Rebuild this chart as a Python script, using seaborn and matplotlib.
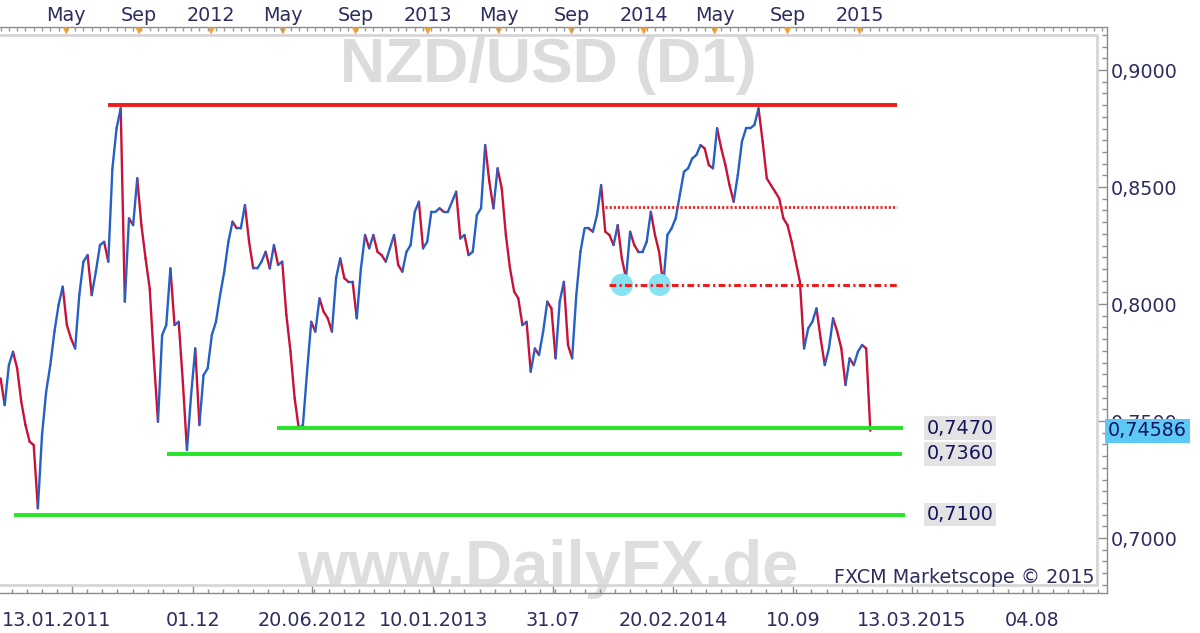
import numpy as np
import pandas as pd
import matplotlib
matplotlib.use("Agg")
import matplotlib.pyplot as plt
import matplotlib.dates as mdates
import matplotlib.transforms as mtransforms
from matplotlib.ticker import FixedLocator
import seaborn as sns

# NZD/USD weekly closes (Jan 2011 - Jan 2015)
WEEK_START = "2011-01-10"
closes = [
    0.7682, 0.7568, 0.7739, 0.7796, 0.7725, 0.7582, 0.7483, 0.7412, 0.7397, 0.7127,
    0.7440, 0.7625, 0.7739, 0.7882, 0.7996, 0.8074, 0.7910, 0.7853, 0.7810, 0.8038,
    0.8181, 0.8209, 0.8038, 0.8138, 0.8252, 0.8266, 0.8181, 0.8580, 0.8751, 0.8836,
    0.8010, 0.8366, 0.8337, 0.8537, 0.8337, 0.8195, 0.8067, 0.7768, 0.7497, 0.7867,
    0.7910, 0.8152, 0.7910, 0.7924, 0.7668, 0.7376, 0.7611, 0.7810, 0.7483, 0.7696,
    0.7725, 0.7867, 0.7924, 0.8038, 0.8138, 0.8266, 0.8352, 0.8323, 0.8323, 0.8423,
    0.8266, 0.8152, 0.8152, 0.8181, 0.8223, 0.8152, 0.8252, 0.8167, 0.8181, 0.7953,
    0.7796, 0.7597, 0.7468, 0.7483, 0.7711, 0.7924, 0.7882, 0.8024, 0.7967, 0.7939,
    0.7882, 0.8110, 0.8195, 0.8110, 0.8095, 0.8095, 0.7939, 0.8152, 0.8295, 0.8238,
    0.8295, 0.8223, 0.8209, 0.8181, 0.8238, 0.8295, 0.8167, 0.8138, 0.8223, 0.8252,
    0.8394, 0.8437, 0.8238, 0.8266, 0.8394, 0.8394, 0.8409, 0.8394, 0.8394, 0.8437,
    0.8480, 0.8280, 0.8295, 0.8209, 0.8223, 0.8380, 0.8409, 0.8679, 0.8523, 0.8409,
    0.8580, 0.8494, 0.8295, 0.8152, 0.8053, 0.8024, 0.7910, 0.7924, 0.7711, 0.7810,
    0.7782, 0.7882, 0.8010, 0.7981, 0.7768, 0.8010, 0.8095, 0.7825, 0.7768, 0.8038,
    0.8223, 0.8323, 0.8323, 0.8309, 0.8380, 0.8508, 0.8309, 0.8295, 0.8252, 0.8337,
    0.8195, 0.8110, 0.8309, 0.8252, 0.8223, 0.8223, 0.8266, 0.8394, 0.8295, 0.8223,
    0.8081, 0.8295, 0.8323, 0.8366, 0.8466, 0.8565, 0.8580, 0.8622, 0.8637, 0.8679,
    0.8665, 0.8594, 0.8580, 0.8751, 0.8665, 0.8594, 0.8508, 0.8437, 0.8551, 0.8694,
    0.8751, 0.8751, 0.8765, 0.8836, 0.8694, 0.8537, 0.8508, 0.8480, 0.8451, 0.8366,
    0.8337, 0.8266, 0.8181, 0.8095, 0.7810, 0.7896, 0.7924, 0.7981, 0.7853, 0.7739,
    0.7810, 0.7939, 0.7882, 0.7810, 0.7654, 0.7768, 0.7739, 0.7796, 0.7825, 0.7810,
    0.74586,
]
last_price = 0.74586

# drawn levels
resistance = 0.8852
res_start, res_end = "2011-07-10", "2015-03-05"
dotted_level = 0.8413
dotted_start = "2013-10-27"
neckline = 0.8082
neckline_start = "2013-11-04"
double_bottom = ["2013-11-25", "2014-01-28"]
support_levels = [0.7470, 0.7360, 0.7100]
support_labels = ["0,7470", "0,7360", "0,7100"]
support_start = ["2012-04-21", "2011-10-18", "2011-02-01"]
support_end = ["2015-03-15", "2015-03-13", "2015-03-18"]

price_ticks = [0.70, 0.75, 0.80, 0.85, 0.90]
price_labels = ["0,7000", "0,7500", "0,8000", "0,8500", "0,9000"]
top_dates = ["2011-05-01", "2011-09-01", "2012-01-01", "2012-05-01", "2012-09-01",
             "2013-01-01", "2013-05-01", "2013-09-01", "2014-01-01", "2014-05-01",
             "2014-09-01", "2015-01-01"]
top_labels = ["May", "Sep", "2012", "May", "Sep", "2013", "May", "Sep", "2014",
              "May", "Sep", "2015"]
bottom_dates = ["2011-05-11", "2011-12-01", "2012-06-20", "2013-01-10", "2013-07-31",
                "2014-02-20", "2014-09-10", "2015-03-30", "2015-10-19"]
bottom_labels = ["13.01.2011", "01.12", "20.06.2012", "10.01.2013", "31.07",
                 "20.02.2014", "10.09", "13.03.2015", "04.08"]

NAVY = "#2d2d5f"
RED = "#ee1c1c"
GREEN = "#27e427"

sns.set_theme(style="white")
plt.rcParams["font.family"] = ["DejaVu Sans"]

dates = pd.date_range(WEEK_START, periods=len(closes), freq="7D")

# one two-point segment per week, coloured by direction
rows = []
for i in range(1, len(closes)):
    d = "up" if closes[i] >= closes[i - 1] else "down"
    rows.append((dates[i - 1], closes[i - 1], i, d))
    rows.append((dates[i], closes[i], i, d))
seg = pd.DataFrame(rows, columns=["date", "price", "seg", "dir"])

fig = plt.figure(figsize=(12, 6.33), dpi=100)
ax = fig.add_axes([0, 40 / 633, 1107 / 1200, 566 / 633])

sns.lineplot(data=seg, x="date", y="price", units="seg", hue="dir", estimator=None,
             sort=False, palette={"up": "#2460c6", "down": "#c8123a"}, lw=1.7,
             legend=False, ax=ax, zorder=2)

ax.set_xlim(pd.Timestamp("2011-01-09"), pd.Timestamp("2016-02-23"))
ax.set_ylim(0.6765, 0.91838)
ax.set_xlabel("")
ax.set_ylabel("")

# watermarks
ax.text(0.495, 0.903, "NZD/USD (D1)", transform=ax.transAxes, ha="center",
        va="baseline", fontsize=45, fontweight="bold", family="Liberation Sans",
        color="#dcdcdc", zorder=0.5)
ax.text(0.495, 0.012, "www.DailyFX.de", transform=ax.transAxes, ha="center",
        va="baseline", fontsize=47, fontweight="bold", family="Liberation Sans",
        color="#dedede", zorder=0.5)
ax.text(1095 / 1107, 0.018, "FXCM Marketscope \u00a9 2015", transform=ax.transAxes,
        ha="right", va="baseline", fontsize=13.8, color=NAVY, zorder=6)

# levels
ax.plot(pd.to_datetime([res_start, res_end]), [resistance] * 2, color=RED, lw=2.8,
        solid_capstyle="butt", zorder=4)
ax.plot(pd.to_datetime([dotted_start, res_end]), [dotted_level] * 2, color=RED, lw=2,
        ls=(0, (0.75, 0.75)), zorder=4)
ax.scatter(pd.to_datetime(double_bottom), [neckline] * 2, s=260, color="#86e3f2",
           edgecolors="none", zorder=3)
ax.plot(pd.to_datetime([neckline_start, res_end]), [neckline] * 2, color=RED, lw=2.2,
        ls=(0, (2.2, 1.1, 0.7, 1.1)), zorder=4)
for lvl, s, e in zip(support_levels, support_start, support_end):
    ax.plot(pd.to_datetime([s, e]), [lvl, lvl], color=GREEN, lw=2.8,
            solid_capstyle="butt", zorder=4)
for lvl, lab in zip(support_levels, support_labels):
    ax.text(960 / 1107, lvl, lab, transform=ax.get_yaxis_transform(), ha="center",
            va="center", fontsize=13.8, color="#14145c", zorder=6,
            bbox=dict(boxstyle="square,pad=0.12", fc="#e3e3e3", ec="none"))

# current price marker on the price scale
ax.text(1.001, last_price, f"{last_price:.5f}".replace(".", ","),
        transform=ax.get_yaxis_transform(), ha="left", va="center", fontsize=13.8,
        color="#14145c", zorder=10, clip_on=False,
        bbox=dict(boxstyle="square,pad=0.14", fc="#5cc8f5", ec="none"))

# light inner frame
ax.plot([0, 0.991, 0.991], [0.9859, 0.9859, 0.0141], transform=ax.transAxes,
        color="#d6d6d6", lw=2, zorder=1)
ax.plot([0, 0.991], [0.0141, 0.0141], transform=ax.transAxes, color="#d6d6d6",
        lw=2, zorder=1)

# spines
ax.spines["left"].set_visible(False)
for side in ["right", "top", "bottom"]:
    ax.spines[side].set_color("#8c8c8c")
    ax.spines[side].set_linewidth(1)

# price axis on the right
ax.yaxis.tick_right()
ax.yaxis.set_major_locator(FixedLocator(price_ticks))
ax.set_yticklabels(price_labels)
ax.yaxis.set_minor_locator(FixedLocator(np.arange(0.68, 0.916, 0.005)))
ax.tick_params(axis="y", which="major", direction="in", length=7, width=1,
               color="#8c8c8c", pad=2.5, labelsize=13.8, labelcolor=NAVY)
ax.tick_params(axis="y", which="minor", direction="in", length=3.5, width=1,
               color="#8c8c8c")

# bottom date axis
bnums = mdates.date2num(pd.to_datetime(bottom_dates))
step = (bnums[1] - bnums[0]) / 8
ax.xaxis.set_major_locator(FixedLocator(bnums))
ax.set_xticklabels(bottom_labels)
ax.xaxis.set_minor_locator(FixedLocator(np.arange(bnums[0] - 8 * step, bnums[-1] + 8 * step, step)))
ax.tick_params(axis="x", which="major", direction="in", length=6, width=1,
               color="#8c8c8c", pad=13, labelsize=13.8, labelcolor=NAVY)
ax.tick_params(axis="x", which="minor", direction="in", length=3, width=1,
               color="#8c8c8c")
first = ax.get_xticklabels()[0]
first.set_transform(first.get_transform() +
                    mtransforms.ScaledTranslation(-0.16, 0, fig.dpi_scale_trans))

# top calendar axis
ax_top = ax.twiny()
ax_top.set_xlim(ax.get_xlim())
for sp in ax_top.spines.values():
    sp.set_visible(False)
tnums = mdates.date2num(pd.to_datetime(top_dates))
ax_top.xaxis.set_major_locator(FixedLocator(tnums))
ax_top.set_xticklabels(top_labels)
ax_top.xaxis.set_minor_locator(mdates.WeekdayLocator(byweekday=mdates.MO, interval=2))
ax_top.tick_params(axis="x", which="major", length=0, pad=1.5, labelsize=13.8,
                   labelcolor=NAVY)
ax_top.tick_params(axis="x", which="minor", direction="in", length=3, width=1,
                   color="#9a9a9a")
ax.scatter(tnums, [0.993] * len(tnums), transform=ax.get_xaxis_transform(),
           marker="v", s=28, color="#f3a12c", edgecolors="none", clip_on=False, zorder=6)

fig.savefig("out.png", dpi=100, facecolor="white")
